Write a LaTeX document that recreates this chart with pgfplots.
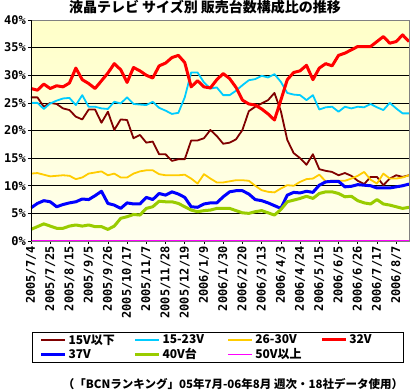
\documentclass[border=0pt]{standalone}
\usepackage{pgfplots}
\pgfplotsset{compat=1.18}
\usepackage{pgfplotstable}
\usepackage{fontspec}
\setmainfont{Noto Sans CJK JP}
\newfontfamily\monob{DejaVu Sans Mono}
\definecolor{cMaroon}{RGB}{128,0,0}
\definecolor{cCyan}{RGB}{0,204,255}
\definecolor{cYellow}{RGB}{255,204,0}
\definecolor{cRed}{RGB}{255,0,0}
\definecolor{cBlue}{RGB}{0,0,255}
\definecolor{cGreen}{RGB}{153,204,0}
\definecolor{cMag}{RGB}{255,0,255}
\definecolor{bgTop}{RGB}{255,255,200}
\definecolor{bgBot}{RGB}{255,255,238}

\pgfplotstableread{
w m c y r b g p
0 26.0 25.0 12.2 27.6 6.0 2.1 0.1
1 26.0 25.0 12.3 27.3 6.8 2.6 0.1
2 24.3 23.9 12.0 28.4 7.3 3.1 0.1
3 25.0 24.9 11.7 27.6 7.1 2.7 0.1
4 24.8 25.4 11.8 28.1 6.2 2.3 0.1
5 24.0 25.8 11.9 27.9 6.6 2.3 0.1
6 23.7 25.9 11.8 28.6 6.9 2.7 0.1
7 22.5 24.6 11.2 31.3 7.1 2.9 0.1
8 22.0 26.4 11.5 29.2 7.6 2.7 0.1
9 23.8 24.3 12.2 28.5 7.5 2.9 0.1
10 23.8 24.3 12.4 27.6 8.2 2.6 0.1
11 21.4 24.0 12.6 29.0 9.0 2.6 0.1
12 23.4 23.9 11.9 30.4 6.8 2.1 0.1
13 20.1 25.2 12.2 32.1 6.5 2.7 0.1
14 22.0 24.9 11.5 31.0 5.9 4.1 0.1
15 21.9 26.0 11.5 28.7 6.9 4.4 0.1
16 18.6 24.8 12.2 31.4 6.7 4.8 0.1
17 19.2 24.7 12.6 30.8 6.7 4.7 0.1
18 17.8 24.6 12.8 30.0 7.9 5.9 0.1
19 18.0 25.2 12.8 29.5 7.5 6.2 0.1
20 15.7 24.1 12.1 31.7 8.6 7.2 0.1
21 15.7 23.6 11.9 32.2 8.3 7.1 0.1
22 14.5 23.0 11.9 33.2 8.9 7.1 0.1
23 14.8 23.2 11.9 33.6 8.5 6.8 0.1
24 14.8 26.0 12.0 32.3 7.9 6.2 0.1
25 18.2 30.5 11.3 27.9 6.2 5.6 0.1
26 18.2 30.5 10.4 29.0 6.1 5.3 0.1
27 18.6 28.7 12.1 27.9 6.7 5.5 0.1
28 20.1 27.6 11.3 27.7 6.9 5.6 0.1
29 19.0 27.8 10.6 29.2 6.9 5.9 0.1
30 17.6 26.4 10.6 30.3 8.0 5.9 0.1
31 17.8 26.4 10.8 29.4 8.9 5.9 0.1
32 18.4 27.2 11.0 27.8 9.1 5.5 0.1
33 20.1 28.2 11.0 25.5 9.1 5.1 0.1
34 23.5 29.1 10.9 24.8 8.5 5.0 0.1
35 24.3 29.3 10.0 24.6 7.5 5.3 0.1
36 24.9 29.9 9.2 23.9 7.3 5.5 0.1
37 25.5 29.6 8.9 23.0 6.9 5.1 0.1
38 26.8 30.2 8.8 21.9 6.4 4.7 0.1
39 23.5 28.8 9.5 25.5 5.9 5.7 0.1
40 18.3 26.8 10.1 29.2 8.3 7.1 0.1
41 15.9 26.5 10.0 30.5 8.8 7.4 0.1
42 15.0 26.4 10.7 30.8 8.7 7.7 0.1
43 13.8 25.5 11.2 31.8 9.0 8.1 0.1
44 15.7 26.4 11.3 29.2 8.8 7.7 0.1
45 13.0 23.8 12.0 31.3 10.1 8.6 0.1
46 12.7 24.2 10.8 32.1 10.7 8.9 0.1
47 12.5 24.3 10.9 31.7 10.8 8.9 0.1
48 11.9 23.4 10.9 33.6 10.8 8.6 0.1
49 12.3 24.3 10.9 34.0 9.8 8.0 0.1
50 11.8 24.0 11.3 34.6 9.9 8.1 0.1
51 10.9 24.3 11.8 35.2 10.2 7.3 0.1
52 10.3 24.2 12.5 35.2 10.1 6.9 0.1
53 11.6 24.8 11.1 35.2 10.0 6.7 0.1
54 11.6 24.2 10.4 36.1 9.6 7.5 0.1
55 10.1 23.7 12.2 37.0 9.6 6.7 0.1
56 11.3 25.0 11.3 35.8 9.6 6.5 0.1
57 11.9 24.0 11.3 36.1 9.8 6.2 0.1
58 11.6 23.1 11.5 37.3 10.0 5.9 0.1
59 11.9 23.1 11.9 36.1 10.3 6.1 0.1
}\datatable

\begin{document}
\begin{tikzpicture}
\useasboundingbox (-31pt,-150pt) rectangle (379pt,241pt);
\begin{axis}[
  scale only axis, width=378pt, height=221pt,
  at={(0pt,0pt)}, anchor=south west,
  xmin=0, xmax=59, ymin=0, ymax=40,
  axis background/.style={top color=bgTop, bottom color=bgBot},
  axis line style={draw=gray, line width=0.8pt},
  xtick={0,3,...,57},
  xticklabels={2005/7/4,2005/7/25,2005/8/15,2005/9/5,2005/9/26,2005/10/17,2005/11/7,2005/11/28,2005/12/19,2006/1/9,2006/1/30,2006/2/20,2006/3/13,2006/4/3,2006/4/24,2006/5/15,2006/6/5,2006/6/26,2006/7/17,2006/8/7},
  ytick={0,5,...,40},
  yticklabels={0\%,5\%,10\%,15\%,20\%,25\%,30\%,35\%,40\%},
  tick label style={font=\monob\bfseries\fontsize{12}{12}\selectfont},
  xticklabel style={rotate=90, anchor=east, inner sep=2pt},
  yticklabel style={inner sep=2pt},
  tick align=outside, major tick length=3pt,
  tick style={black, line width=0.6pt},
  xtick pos=bottom, ytick pos=left,
  ymajorgrids, grid style={black, line width=0.7pt},
  every axis plot/.append style={line join=round, mark=none},
  legend columns=4,
  legend image code/.code={\draw[#1] (0pt,0pt) -- (24pt,0pt);},
  legend style={at={(0.003,-0.412)}, anchor=north west, draw=black, line width=0.8pt,
     fill=white, inner xsep=7pt, inner ysep=1pt, row sep=1pt,
     font=\bfseries\fontsize{12}{13}\selectfont,
     nodes={inner sep=1pt, line width=0.4pt},
     /tikz/every odd column/.append style={column sep=1pt}},
  legend cell align=left,
]
\addplot[cMaroon, line width=1.8pt] table[x=w, y=m] {\datatable};
\addlegendentry{\makebox[64pt][l]{15V以下}}
\addplot[cCyan, line width=1.8pt] table[x=w, y=c] {\datatable};
\addlegendentry{\makebox[64pt][l]{15-23V}}
\addplot[cYellow, line width=1.8pt] table[x=w, y=y] {\datatable};
\addlegendentry{\makebox[64pt][l]{26-30V}}
\addplot[cRed, line width=3pt] table[x=w, y=r] {\datatable};
\addlegendentry{\makebox[46pt][l]{32V}}
\addplot[cBlue, line width=3pt] table[x=w, y=b] {\datatable};
\addlegendentry{\makebox[64pt][l]{37V}}
\addplot[cGreen, line width=3pt] table[x=w, y=g] {\datatable};
\addlegendentry{\makebox[64pt][l]{40V台}}
\addplot[cMag, line width=1.2pt] table[x=w, y=p] {\datatable};
\addlegendentry{\makebox[64pt][l]{50V以上}}
\draw[black, line width=0.8pt] (rel axis cs:0,0) -- (rel axis cs:0,1);
\end{axis}
\node[font=\bfseries\fontsize{14}{14}\selectfont] at (174pt,234pt) {液晶テレビ サイズ別 販売台数構成比の推移};
\node[font=\bfseries\fontsize{11.5}{12}\selectfont] at (202pt,-143pt) {（「BCNランキング」05年7月-06年8月 週次・18社データ使用）};
\end{tikzpicture}
\end{document}
